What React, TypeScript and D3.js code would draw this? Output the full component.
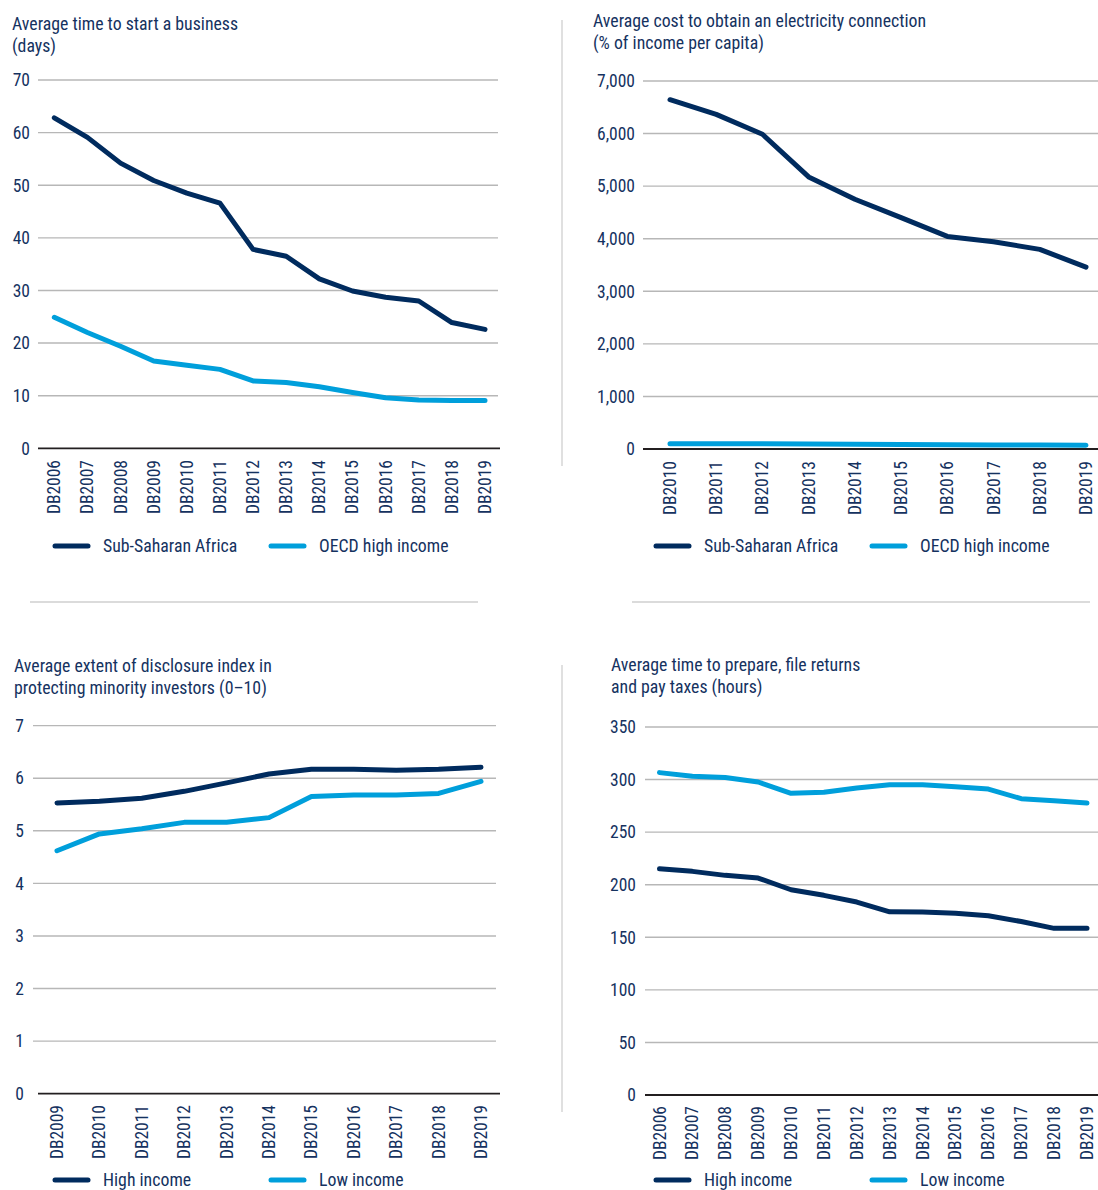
import React from "react";
import * as d3 from "d3";

const DARK = "#002b5e";
const LIGHT = "#009fdb";
const TEXT = "#15325f";
const GRID = "#b7b7b7";
const RULE = "#cfcfcf";
const FONT = "'Liberation Sans Narrow', 'Roboto Condensed', Roboto, sans-serif";

// Average time to start a business (days)
const startYears = ["DB2006", "DB2007", "DB2008", "DB2009", "DB2010", "DB2011", "DB2012", "DB2013", "DB2014", "DB2015", "DB2016", "DB2017", "DB2018", "DB2019"];
const startSSA = [62.8, 59.1, 54.2, 50.9, 48.5, 46.6, 37.8, 36.5, 32.2, 29.9, 28.7, 28.0, 23.9, 22.6];
const startOECD = [24.9, 22.0, 19.4, 16.6, 15.8, 15.0, 12.8, 12.5, 11.7, 10.6, 9.6, 9.2, 9.1, 9.1];
const startTicks = [0, 10, 20, 30, 40, 50, 60, 70];

// Average cost to obtain an electricity connection (% of income per capita)
const elecYears = ["DB2010", "DB2011", "DB2012", "DB2013", "DB2014", "DB2015", "DB2016", "DB2017", "DB2018", "DB2019"];
const elecSSA = [6644, 6365, 5987, 5175, 4750, 4400, 4044, 3943, 3797, 3460];
const elecOECD = [100, 100, 100, 95, 90, 85, 82, 78, 75, 70];
const elecTicks = [0, 1000, 2000, 3000, 4000, 5000, 6000, 7000];

// Average extent of disclosure index (0-10)
const discYears = ["DB2009", "DB2010", "DB2011", "DB2012", "DB2013", "DB2014", "DB2015", "DB2016", "DB2017", "DB2018", "DB2019"];
const discHigh = [5.53, 5.56, 5.62, 5.75, 5.91, 6.08, 6.17, 6.17, 6.15, 6.17, 6.21];
const discLow = [4.62, 4.94, 5.04, 5.16, 5.16, 5.25, 5.65, 5.68, 5.68, 5.71, 5.94];
const discTicks = [0, 1, 2, 3, 4, 5, 6, 7];

// Average time to prepare, file returns and pay taxes (hours)
const taxYears = ["DB2006", "DB2007", "DB2008", "DB2009", "DB2010", "DB2011", "DB2012", "DB2013", "DB2014", "DB2015", "DB2016", "DB2017", "DB2018", "DB2019"];
const taxHigh = [215.2, 212.7, 208.9, 206.3, 195.2, 189.9, 183.5, 174.2, 174.0, 172.8, 170.5, 165.0, 158.5, 158.5];
const taxLow = [306.6, 303.1, 301.9, 297.7, 286.9, 287.9, 292.0, 295.1, 295.1, 293.2, 291.0, 281.8, 279.9, 277.7];
const taxTicks = [0, 50, 100, 150, 200, 250, 300, 350];

const Panel = ({ cfg }) => {
   const x = d3
      .scalePoint()
      .domain(cfg.cats)
      .range([cfg.x0, cfg.x1]);
   const y = d3
      .scaleLinear()
      .domain([0, cfg.ticks[cfg.ticks.length - 1]])
      .range([cfg.yBottom, cfg.yTop]);
   const line = d3
      .line()
      .x((d, i) => x(cfg.cats[i]))
      .y((d) => y(d));
   const fmt = d3.format(",");

   return (
      <g fontFamily={FONT} fill={TEXT}>
         {cfg.title.map((t, i) => (
            <text key={t} x={cfg.titleX} y={cfg.titleY + i * 21.5} fontSize={17.8}>
               {t}
            </text>
         ))}
         {cfg.ticks.map((t) => (
            <g key={t}>
               {t !== 0 && (
                  <line x1={cfg.gridX0} x2={cfg.gridX1} y1={y(t)} y2={y(t)} stroke={GRID} strokeWidth={1.4} />
               )}
               <text x={cfg.tickX} y={y(t)} dy="0.36em" textAnchor="end" fontSize={17.5}>
                  {fmt(t)}
               </text>
            </g>
         ))}
         <line x1={cfg.baseX0} x2={cfg.baseX1} y1={y(0)} y2={y(0)} stroke="#231f20" strokeWidth={1.8} />
         {cfg.cats.map((c) => (
            <text
               key={c}
               transform={`translate(${x(c)},${cfg.labelY}) rotate(-90)`}
               textAnchor="end"
               dominantBaseline="central"
               fontSize={17.5}
            >
               {c}
            </text>
         ))}
         {cfg.series.map((s) => (
            <path
               key={s.name}
               d={line(s.values)}
               fill="none"
               stroke={s.color}
               strokeWidth={5}
               strokeLinejoin="round"
               strokeLinecap="round"
            />
         ))}
         {cfg.series.map((s, i) => (
            <g key={s.name} transform={`translate(${cfg.legX[i]},${cfg.legY})`}>
               <line x1={0} x2={33} y1={0} y2={0} stroke={s.color} strokeWidth={5} strokeLinecap="round" />
               <text x={48} y={0} dy="0.36em" fontSize={17.8}>
                  {s.name}
               </text>
            </g>
         ))}
      </g>
   );
};

const panels = [
   {
      title: ["Average time to start a business", "(days)"],
      titleX: 12, titleY: 30,
      cats: startYears, ticks: startTicks,
      x0: 54.3, x1: 485, yTop: 80, yBottom: 448.3,
      gridX0: 38, gridX1: 498, baseX0: 38, baseX1: 500, tickX: 30, labelY: 460,
      legX: [55, 271], legY: 546,
      series: [
         { name: "Sub-Saharan Africa", values: startSSA, color: DARK },
         { name: "OECD high income", values: startOECD, color: LIGHT },
      ],
   },
   {
      title: ["Average cost to obtain an electricity connection", "(% of income per capita)"],
      titleX: 593, titleY: 27,
      cats: elecYears, ticks: elecTicks,
      x0: 670, x1: 1086, yTop: 81, yBottom: 449,
      gridX0: 643, gridX1: 1098, baseX0: 643, baseX1: 1098, tickX: 635, labelY: 461,
      legX: [656, 872], legY: 546,
      series: [
         { name: "Sub-Saharan Africa", values: elecSSA, color: DARK },
         { name: "OECD high income", values: elecOECD, color: LIGHT },
      ],
   },
   {
      title: ["Average extent of disclosure index in", "protecting minority investors (0\u201310)"],
      titleX: 14, titleY: 672,
      cats: discYears, ticks: discTicks,
      x0: 57, x1: 481, yTop: 725.6, yBottom: 1093.7,
      gridX0: 33, gridX1: 496, baseX0: 38, baseX1: 500, tickX: 24, labelY: 1105,
      legX: [55, 271], legY: 1180,
      series: [
         { name: "High income", values: discHigh, color: DARK },
         { name: "Low income", values: discLow, color: LIGHT },
      ],
   },
   {
      title: ["Average time to prepare, file returns", "and pay taxes (hours)"],
      titleX: 611, titleY: 671,
      cats: taxYears, ticks: taxTicks,
      x0: 659.5, x1: 1087, yTop: 727, yBottom: 1095,
      gridX0: 645, gridX1: 1098, baseX0: 645, baseX1: 1098, tickX: 636, labelY: 1106,
      legX: [656, 872], legY: 1180,
      series: [
         { name: "High income", values: taxHigh, color: DARK },
         { name: "Low income", values: taxLow, color: LIGHT },
      ],
   },
];

export default function App() {
   return (
      <svg
         width={1098}
         height={1190}
         style={{ position: "absolute", left: 0, top: 0, background: "#fff" }}
      >
         <rect width={1098} height={1190} fill="#fff" />
         {/* separators between panels */}
         <line x1={30} x2={478} y1={602} y2={602} stroke={RULE} strokeWidth={1.3} />
         <line x1={632} x2={1090} y1={602} y2={602} stroke={RULE} strokeWidth={1.3} />
         <line x1={562} x2={562} y1={20} y2={466} stroke={RULE} strokeWidth={1.3} />
         <line x1={562} x2={562} y1={665} y2={1112} stroke={RULE} strokeWidth={1.3} />
         {panels.map((p, i) => (
            <Panel key={i} cfg={p} />
         ))}
      </svg>
   );
}
